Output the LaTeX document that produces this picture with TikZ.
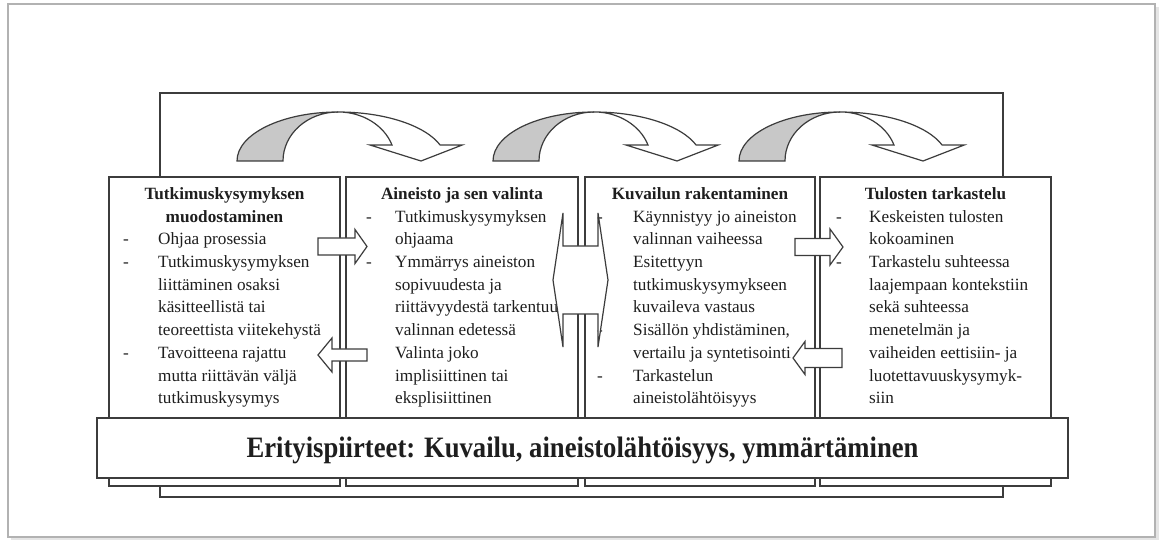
\documentclass[tikz,border=0pt]{standalone}
\usepackage{fontspec}
\setmainfont{Liberation Serif}
\usepackage{graphicx}
\definecolor{ln}{HTML}{3C3C3C}
\definecolor{gfill}{HTML}{C8C8C8}
\definecolor{tx}{HTML}{1E1E1E}
\newcommand\blockarr[6]{% #1 shaft end, #2 head base, #3 tip, #4 centre y, #5 shaft half, #6 head half
  \filldraw[blk] (#1,#4-#5) -- (#2,#4-#5) -- (#2,#4-#6) -- (#3,#4) -- (#2,#4+#6) -- (#2,#4+#5) -- (#1,#4+#5) -- cycle;}
\begin{document}
\begin{tikzpicture}[x=1bp,y=-1bp,line join=miter,
  box/.style={draw=ln,line width=1.5bp,fill=white,inner sep=0pt,outer sep=0pt,anchor=north west},
  txt/.style={anchor=base west,inner sep=0pt,text=tx,font=\fontsize{17.2bp}{22.7bp}\selectfont},
  ttl/.style={anchor=base,inner sep=0pt,text=tx,font=\fontsize{17.2bp}{22.7bp}\selectfont\bfseries},
  blk/.style={draw=ln,line width=1.2bp,fill=white},
  curv/.style={draw=ln,line width=1.2bp}]
\useasboundingbox (0,0) rectangle (1168,542);
% page frame
\fill[black!10] (11,7) rectangle (1159,540);
\draw[draw=black!30,fill=white,line width=1.2bp] (8,4) rectangle (1155,537);
% back frame
\node[box,fill=none,minimum width=843bp,minimum height=404bp] (back) at (160,93) {};
% four boxes
\node[box,minimum width=231bp,minimum height=309bp] (b1) at (109,177) {};
\node[box,minimum width=232bp,minimum height=309bp] (b2) at (346,177) {};
\node[box,minimum width=230bp,minimum height=309bp] (b3) at (585,177) {};
\node[box,minimum width=231bp,minimum height=309bp] (b4) at (820,177) {};
% band
\node[box,minimum width=971bp,minimum height=60bp] (band) at (97,418) {};
\node[anchor=base,inner sep=0pt,text=tx,font=\fontsize{29.6bp}{32bp}\selectfont\bfseries] (bandtext) at (582.5,457)
  {\scalebox{0.9}[1]{Erityispiirteet: Kuvailu, aineistolähtöisyys, ymmärtäminen}};
% curved arrows
\foreach \x in {237,493,739}{
  \filldraw[curv,fill=gfill] (\x,161) arc[start angle=180,end angle=270,x radius=101,y radius=49]
     arc[start angle=270,end angle=180,x radius=55,y radius=49] -- cycle;
  \filldraw[curv,fill=white] (\x+101,112) arc[start angle=270,end angle=341,x radius=108,y radius=49]
     -- ++(22,0) -- (\x+184,161) -- (\x+133,145) -- (\x+155,145)
     arc[start angle=341,end angle=270,x radius=57,y radius=49] -- cycle;
}
% titles
\node[ttl] (t1a) at (224.5,199.5) {Tutkimuskysymyksen};
\node[ttl] (t1b) at (224.5,222.2) {muodostaminen};
\node[ttl] (t2) at (462,199.5) {Aineisto ja sen valinta};
\node[ttl] (t3) at (700,199.5) {Kuvailun rakentaminen};
\node[ttl] (t4) at (935.5,199.5) {Tulosten tarkastelu};
% box 1 text
\foreach \t [count=\i from 2] in {Ohjaa prosessia,Tutkimuskysymyksen,liittäminen osaksi,käsitteellistä tai,teoreettista viitekehystä,Tavoitteena rajattu,mutta riittävän väljä,tutkimuskysymys}
  \node[txt] (a\i) at (158,199.5+22.7*\i) {\t};
\foreach \i in {2,3,7} \node[txt] (ab\i) at (123,199.5+22.7*\i) {-};
% box 2 text
\foreach \t [count=\i from 1] in {Tutkimuskysymyksen,ohjaama,Ymmärrys aineiston,sopivuudesta ja,riittävyydestä tarkentuu,valinnan edetessä,Valinta joko,implisiittinen tai,eksplisiittinen}
  \node[txt] (c\i) at (395,199.5+22.7*\i) {\t};
\foreach \i in {1,3} \node[txt] (cb\i) at (366,199.5+22.7*\i) {-};
% box 3 text
\foreach \t [count=\i from 1] in {Käynnistyy jo aineiston,valinnan vaiheessa,Esitettyyn,tutkimuskysymykseen,kuvaileva vastaus,{Sisällön yhdistäminen,},vertailu ja syntetisointi,Tarkastelun,aineistolähtöisyys}
  \node[txt] (d\i) at (633,199.5+22.7*\i) {\t};
\foreach \i in {1,6,8} \node[txt] (db\i) at (597,199.5+22.7*\i) {-};
% box 4 text
\foreach \t [count=\i from 1] in {Keskeisten tulosten,kokoaminen,Tarkastelu suhteessa,laajempaan kontekstiin,sekä suhteessa,menetelmän ja,vaiheiden eettisiin- ja,luotettavuuskysymyk-,siin}
  \node[txt] (e\i) at (869,199.5+22.7*\i) {\t};
\foreach \i in {1,3} \node[txt] (eb\i) at (836,199.5+22.7*\i) {-};
% block arrows
\blockarr{318}{355}{367}{246.5}{8.5}{17}
\blockarr{367}{332}{318}{355}{6}{17}
\blockarr{795}{830}{843}{247}{8.5}{18}
\blockarr{842}{805}{793}{358}{9.5}{16.5}
\filldraw[blk] (553,280) -- (563,213) -- (563,246) -- (598,246) -- (598,213) -- (608,280)
  -- (598,347) -- (598,314) -- (563,314) -- (563,347) -- cycle;
\end{tikzpicture}
\end{document}
